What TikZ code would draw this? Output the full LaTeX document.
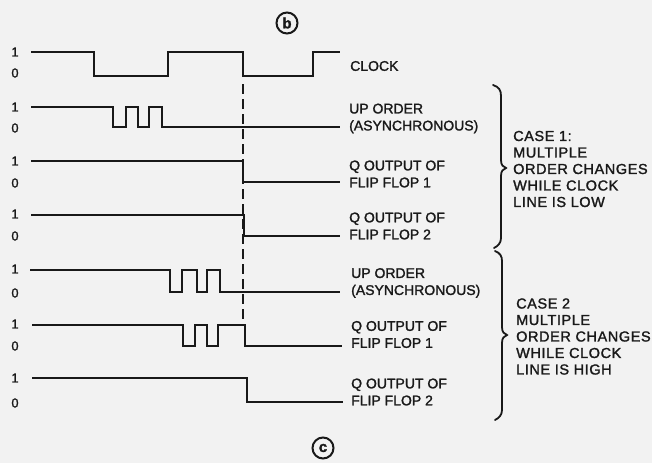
\documentclass[tikz,border=0pt]{standalone}
\usepackage{fontspec}
\setmainfont{Liberation Sans}[FakeBold=1.6]
\definecolor{ink}{RGB}{25,25,25}
\definecolor{paper}{RGB}{242,242,242}
\begin{document}
\begin{tikzpicture}[x=1pt,y=-1pt,
  wave/.style={line width=2.1pt, draw=ink, line join=miter},
  dashline/.style={line width=1.5pt, draw=ink, dash pattern=on 10pt off 5pt},
  bracestyle/.style={line width=1.8pt, draw=ink, line cap=round},
  lvl/.style={font=\fontsize{13}{13}\selectfont, text=ink, inner sep=0pt},
  lbl/.style={font=\fontsize{14}{17}\selectfont, text=ink, inner sep=0pt, anchor=west, align=left},
  caselbl/.style={font=\fontsize{14.5}{16.5}\selectfont\addfontfeature{LetterSpace=4}, text=ink, inner sep=0pt, anchor=west, align=left},
  circlbl/.style={circle, draw=ink, line width=2pt, minimum size=21pt, inner sep=0pt, font=\fontsize{15}{15}\selectfont\bfseries, text=ink}]
\fill[paper] (0,0) rectangle (652,463);
\useasboundingbox (0,0) rectangle (652,463);

% circled letters
\node[circlbl] (b) at (287,23) {b};
\node[circlbl] (c) at (323,448) {c};

% level labels
\foreach \hi/\lo/\n in {52/73/r1, 107/128/r2, 161/183/r3, 214/236/r4, 269/293/r5, 324/346/r6, 378/403/r7}{
  \node[lvl] (one\n) at (15,\hi) {1};
  \node[lvl] (zero\n) at (15,\lo) {0};
}

% waveforms
\draw[wave] (31,52) -- (94,52) -- (94,76) -- (168,76) -- (168,52) -- (243,52) -- (243,76) -- (313,76) -- (313,52) -- (340,52);
\draw[wave] (31,107) -- (113,107) -- (113,127) -- (126,127) -- (126,107) -- (138,107) -- (138,127) -- (149,127) -- (149,107) -- (162,107) -- (162,127) -- (340,127);
\draw[wave] (31,161) -- (243,161) -- (243,182) -- (340,182);
\draw[wave] (31,215) -- (244,215) -- (244,236) -- (340,236);
\draw[wave] (30,270) -- (170,270) -- (170,292) -- (182,292) -- (182,270) -- (197,270) -- (197,292) -- (207,292) -- (207,270) -- (220,270) -- (220,292) -- (340,292);
\draw[wave] (32,325) -- (183,325) -- (183,346) -- (195,346) -- (195,325) -- (207,325) -- (207,346) -- (218,346) -- (218,325) -- (245,325) -- (245,346) -- (342,346);
\draw[wave] (32,378) -- (247,378) -- (247,402) -- (343,402);

% dashed reference line
\coordinate (dtop) at (243,84);
\coordinate (dbot) at (243,322);
\draw[dashline] (dtop) -- (dbot);

% signal labels
\node[lbl] (clk) at (350,66) {CLOCK};
\node[lbl] (up1) at (349,118.5) {UP ORDER\\(ASYNCHRONOUS)};
\node[lbl] (qa1) at (349,174) {Q OUTPUT OF\\FLIP FLOP 1};
\node[lbl] (qb1) at (349,226) {Q OUTPUT OF\\FLIP FLOP 2};
\node[lbl] (up2) at (351,283) {UP ORDER\\(ASYNCHRONOUS)};
\node[lbl] (qa2) at (351,334.5) {Q OUTPUT OF\\FLIP FLOP 1};
\node[lbl] (qb2) at (351,392) {Q OUTPUT OF\\FLIP FLOP 2};

% braces
\draw[bracestyle] (493,85) .. controls (499,87) and (501,90) .. (501,96) -- (501,160) .. controls (501,165) and (503,167) .. (506,168) .. controls (503,169) and (501,171) .. (501,176) -- (501,238) .. controls (501,243) and (498,246) .. (494,248);
\draw[bracestyle] (495,251) .. controls (500,253) and (502,256) .. (502,261) -- (502,327) .. controls (502,332) and (504,334) .. (507,335) .. controls (504,336) and (502,338) .. (502,343) -- (502,410) .. controls (502,415) and (499,418) .. (495,420);

% case texts
\node[caselbl] (case1) at (513,169) {CASE 1:\\MULTIPLE\\ORDER CHANGES\\WHILE CLOCK\\LINE IS LOW};
\node[caselbl] (case2) at (516,336.5) {CASE 2\\MULTIPLE\\ORDER CHANGES\\WHILE CLOCK\\LINE IS HIGH};
\end{tikzpicture}
\end{document}
